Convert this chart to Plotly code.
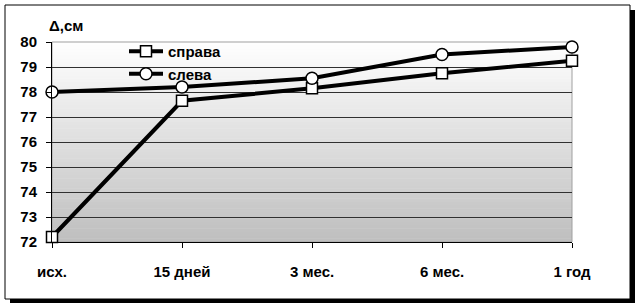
import plotly.graph_objects as go

categories = ["исх.", "15 дней", "3 мес.", "6 мес.", "1 год"]
right_vals = [72.2, 77.65, 78.15, 78.75, 79.25]   # справа
left_vals = [78.0, 78.2, 78.55, 79.5, 79.8]       # слева
y_ticks = [72, 73, 74, 75, 76, 77, 78, 79, 80]

W, H = 637, 306
L, R, T, B = 52, 65, 42, 64
PW, PH = W - L - R, H - T - B


def px_x(px):
    return (px - L) / PW


def px_y(py):
    return (H - B - py) / PH


FONT = dict(family="Liberation Sans, Arial, sans-serif", size=15, color="black", weight="bold")

fig = go.Figure()
fig.add_trace(go.Scatter(
    x=categories, y=right_vals, name="справа", mode="lines+markers",
    line=dict(color="black", width=4),
    marker=dict(symbol="square", size=11, color="white", line=dict(color="black", width=1.5)),
    cliponaxis=False,
))
fig.add_trace(go.Scatter(
    x=categories, y=left_vals, name="слева", mode="lines+markers",
    line=dict(color="black", width=4),
    marker=dict(symbol="circle", size=12, color="white", line=dict(color="black", width=1.5)),
    cliponaxis=False,
))

shapes = []
# drop shadow and frame
shapes.append(dict(type="rect", xref="paper", yref="paper",
                   x0=px_x(10), x1=px_x(635), y0=px_y(303), y1=px_y(10),
                   fillcolor="black", line=dict(width=0), layer="below"))
shapes.append(dict(type="rect", xref="paper", yref="paper",
                   x0=px_x(5), x1=px_x(630), y0=px_y(299), y1=px_y(5),
                   fillcolor="white", line=dict(color="black", width=1), layer="below"))
# gradient background of plot area
N = 60
top_c, bot_c = 255, 190
for i in range(N):
    f = (i + 0.5) / N
    c = int(round(bot_c + (top_c - bot_c) * f))
    shapes.append(dict(type="rect", xref="paper", yref="paper",
                       x0=0, x1=1, y0=i / N, y1=(i + 1) / N + 0.002,
                       fillcolor=f"rgb({c},{c},{c})", line=dict(width=0), layer="below"))
# light plot-area border
shapes.append(dict(type="rect", xref="paper", yref="paper", x0=0, x1=1, y0=0, y1=1,
                   line=dict(color="#a0a0a0", width=1), layer="below"))

fig.update_layout(
    width=W, height=H, autosize=False,
    margin=dict(l=L, r=R, t=T, b=B),
    paper_bgcolor="white", plot_bgcolor="rgba(0,0,0,0)",
    shapes=shapes,
    showlegend=True,
    legend=dict(x=px_x(124), y=px_y(35), xanchor="left", yanchor="top",
                bgcolor="rgba(0,0,0,0)", font=FONT, itemwidth=34),
    annotations=[dict(text="Δ,см", xref="paper", yref="paper", x=px_x(47), y=px_y(25),
                      xanchor="left", yanchor="middle", showarrow=False, font=FONT)],
    xaxis=dict(type="category", categoryorder="array", categoryarray=categories,
               range=[0, 4], showgrid=False, zeroline=False,
               showline=True, linecolor="black", linewidth=1,
               ticks="outside", ticklen=5, tickcolor="black",
               tickfont=FONT, ticklabelstandoff=11),
    yaxis=dict(range=[72, 80], tickvals=y_ticks, showgrid=True, gridcolor="#303030", gridwidth=1,
               zeroline=False, showline=True, linecolor="black", linewidth=1,
               ticks="outside", ticklen=5, tickcolor="black",
               tickfont=FONT, ticklabelstandoff=6),
)

fig.write_html("out.html")
